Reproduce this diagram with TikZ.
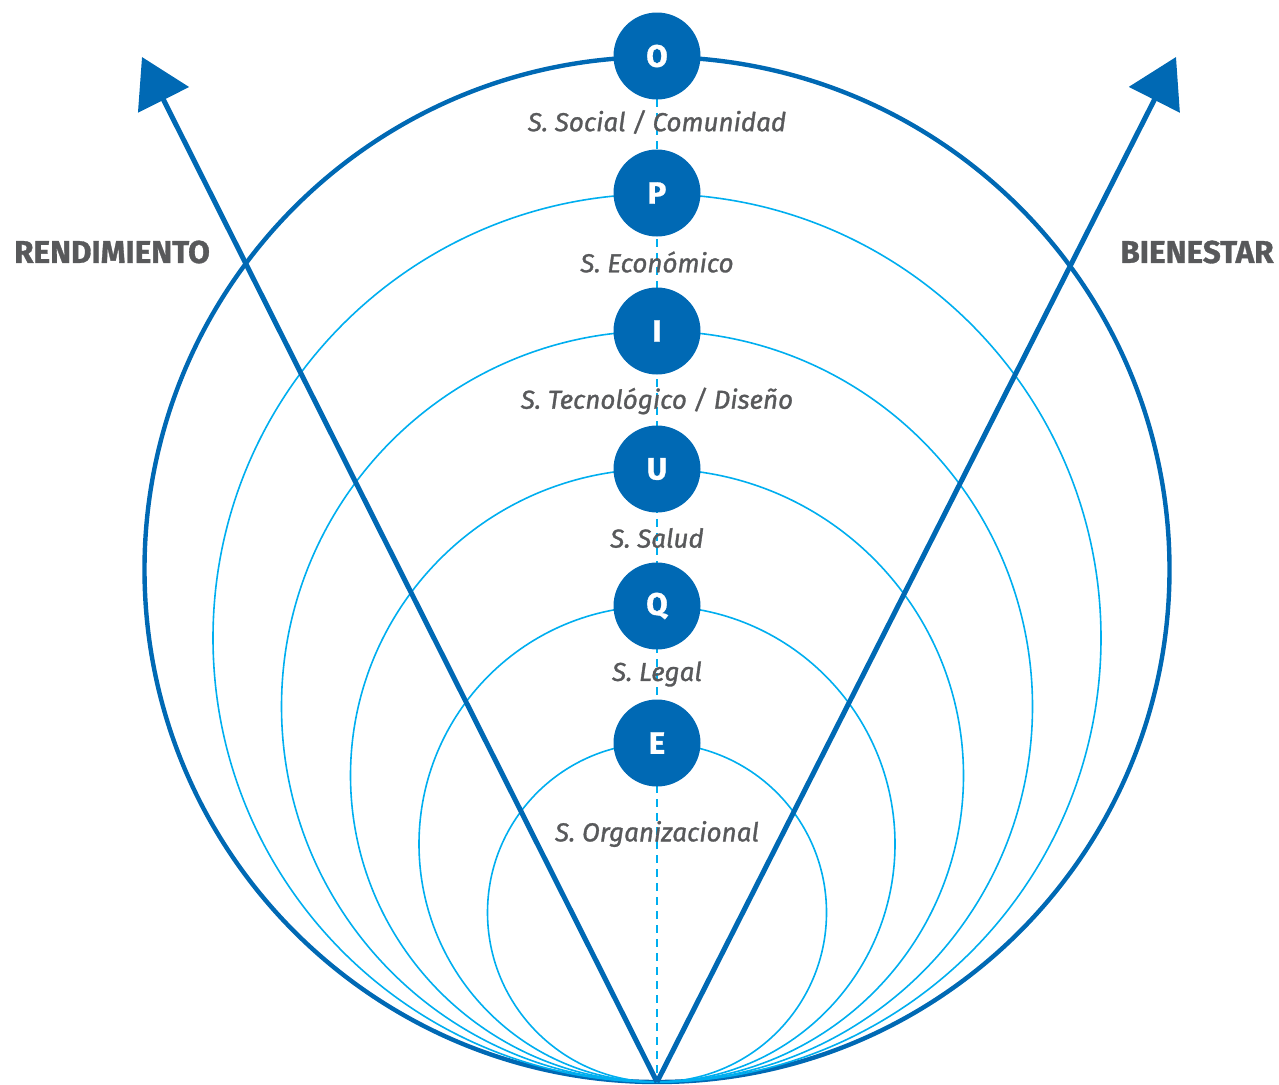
\documentclass[tikz,border=0pt]{standalone}
\usepackage{fontspec}
\setmainfont{Fira Sans}
\newfontfamily\secfont{Fira Sans}[FakeBold=1.2]
\newfontfamily\headfont{Fira Sans}[FakeBold=1.0]
\usetikzlibrary{arrows.meta}
\definecolor{dblue}{HTML}{0069B4}
\definecolor{lblue}{HTML}{00AEEF}
\definecolor{tgray}{HTML}{58595B}
\tikzset{
  ring/.style={draw=lblue, line width=1.6pt},
  outerring/.style={draw=dblue, line width=4.4pt},
  letter/.style={circle, fill=dblue, minimum size=87pt, inner sep=0pt, text=white, font=\fontsize{31}{33}\selectfont\headfont\bfseries},
  sector/.style={text=tgray, font=\fontsize{26}{28}\selectfont\secfont\itshape},
  axislabel/.style={text=tgray, font=\fontsize{31.5}{33}\selectfont\headfont\bfseries},
  bigarrow/.style={draw=dblue, line width=5pt, -{Triangle[length=48pt,width=56pt]}},
}
\begin{document}
\begin{tikzpicture}[x=1pt,y=-1pt]
\useasboundingbox (0,0) rectangle (1279,1084);
\coordinate (B) at (657,1082);
\coordinate (TL) at (142,57);
\coordinate (TR) at (1176,57);
% rings
\draw[outerring] (657,569.5) circle (512.5);
\draw[ring] (657,638) circle (444);
\draw[ring] (657,706.5) circle (375.5);
\draw[ring] (657,775.5) circle (306.5);
\draw[ring] (657,844) circle (238);
\draw[ring] (657,912.5) circle (169.5);
% dashed axis
\draw[lblue, line width=2pt, dash pattern=on 8pt off 6pt] (657,57) -- (B);
% arrows
\draw[bigarrow] (B) -- (TL);
\draw[bigarrow] (B) -- (TR);
% letter nodes
\node[letter] (O) at (657,56) {O};
\node[letter] (P) at (657,193) {P};
\node[letter] (I) at (657,331) {I};
\node[letter] (U) at (657,469) {U};
\node[letter] (Q) at (657,606) {Q};
\node[letter] (E) at (657,743) {E};
% sector labels
\node[sector] (l1) at (657,122) {S. Social / Comunidad};
\node[sector] (l2) at (657,262) {S. Económico};
\node[sector] (l3) at (657,401) {S. Tecnológico / Diseño};
\node[sector] (l4) at (657,538) {S. Salud};
\node[sector] (l5) at (657,674) {S. Legal};
\node[sector] (l6) at (657,834) {S. Organizacional};
% axis labels
\node[axislabel] (rend) at (112,252) {RENDIMIENTO};
\node[axislabel] (bien) at (1197,252) {BIENESTAR};
\end{tikzpicture}
\end{document}
